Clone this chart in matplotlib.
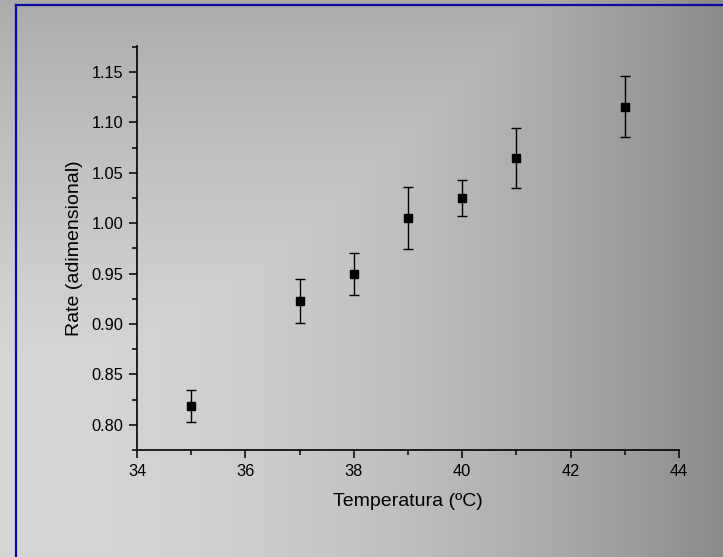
import matplotlib
matplotlib.use("Agg")
import matplotlib.pyplot as plt
import numpy as np
from matplotlib.lines import Line2D
from matplotlib.ticker import MultipleLocator

# data
temps = [35, 37, 38, 39, 40, 41, 43]
rates = [0.819, 0.923, 0.9495, 1.005, 1.025, 1.0645, 1.1155]
rate_err = [0.016, 0.022, 0.021, 0.031, 0.018, 0.030, 0.030]

plt.rcParams['font.family'] = ['Liberation Sans', 'DejaVu Sans']

fig = plt.figure(figsize=(7.23, 5.57), dpi=100)

# gray gradient background (lighter bottom-left, darker right and top)
bg = fig.add_axes([0, 0, 1, 1], zorder=-10)
W, H = 723, 557
xx, yy = np.meshgrid(np.arange(W) / W, np.arange(H) / H)
horiz = 214 - 76 * xx**2
vert = 170 + 44 * np.clip(yy / 0.65, 0, 1) ** 0.8
shade = np.minimum(horiz, vert) / 255.0
bg.imshow(np.dstack([shade, shade, shade]), aspect='auto', extent=[0, 1, 0, 1],
          origin='upper', interpolation='bilinear')
bg.set_axis_off()

# blue frame (only left and top visible in the crop)
fig.add_artist(Line2D([16 / W, 16 / W], [0, 1 - 5 / H], transform=fig.transFigure,
                      color='#0a0aa0', lw=1.6))
fig.add_artist(Line2D([16 / W, 1], [1 - 5 / H, 1 - 5 / H], transform=fig.transFigure,
                      color='#0a0aa0', lw=1.6))

ax = fig.add_axes([137 / W, 107 / H, 542 / W, 404.3 / H])
ax.patch.set_alpha(0)
ax.errorbar(temps, rates, yerr=rate_err, fmt='s', color='black', markersize=6,
            ecolor='black', elinewidth=1, capsize=3.3, capthick=1)

ax.set_xlim(34, 44)
ax.set_ylim(0.775, 1.176)
ax.xaxis.set_major_locator(MultipleLocator(2))
ax.xaxis.set_minor_locator(MultipleLocator(1))
ax.yaxis.set_major_locator(MultipleLocator(0.05))
ax.yaxis.set_minor_locator(MultipleLocator(0.025))
ax.yaxis.set_major_formatter(matplotlib.ticker.FormatStrFormatter('%.2f'))

for s in ['top', 'right']:
    ax.spines[s].set_visible(False)
for s in ['left', 'bottom']:
    ax.spines[s].set_linewidth(1.2)
ax.tick_params(which='major', direction='out', length=6, width=1.1, labelsize=11.8, pad=4)
ax.tick_params(which='minor', direction='out', length=3.5, width=1.1)

ax.set_xlabel('Temperatura (ºC)', fontsize=14, labelpad=10)
ax.set_ylabel('Rate (adimensional)', fontsize=14, labelpad=6)

fig.savefig('out.png', dpi=100)
